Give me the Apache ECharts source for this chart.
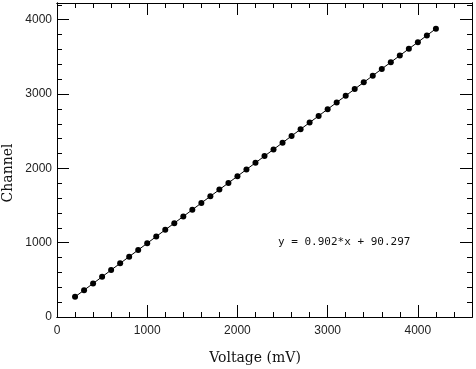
<!DOCTYPE html>
<html><head><meta charset="utf-8">
<script src="https://cdn.jsdelivr.net/npm/echarts@6/dist/echarts.min.js"></script>
<style>html,body{margin:0;padding:0;background:#fff}#c{width:476px;height:369px}</style>
</head><body><div id="c"></div>
<script>
var voltage = [200,300,400,500,600,700,800,900,1000,1100,1200,1300,1400,1500,1600,1700,1800,1900,2000,2100,2200,2300,2400,2500,2600,2700,2800,2900,3000,3100,3200,3300,3400,3500,3600,3700,3800,3900,4000,4100,4200];
var channel = [271,361,451,541,632,722,812,902,992,1083,1173,1263,1353,1443,1534,1624,1714,1804,1894,1985,2075,2165,2255,2345,2436,2526,2616,2706,2796,2887,2977,3067,3157,3247,3338,3428,3518,3608,3698,3789,3879];
var xTickLabels = ['0','1000','2000','3000','4000'];
var yTickLabels = ['0','1000','2000','3000','4000'];
var fitText = 'y = 0.902*x + 90.297';
var xTitle = 'Voltage (mV)';
var yTitle = 'Channel';

var XMAX = 4600, YMAX = 4225;
var gridRect = {left:57, right:4, top:3, bottom:52};
var black = '#000';
var labelFont = {color:'#222', fontFamily:'Liberation Sans', fontSize:12};

function fmt(list){ return function(v){ var s=String(v); return list.indexOf(s)>=0 ? s : ''; }; }

function xAx(grid, pos, interval, len, labels){
  return {type:'value', gridIndex:grid, position:pos, min:0, max:XMAX, interval:interval,
    axisLine:{show:true, onZero:false, lineStyle:{color:black, width:1}},
    axisTick:{show:true, inside:true, length:len, lineStyle:{color:black, width:1}},
    axisLabel:{show:labels, margin:8, formatter:fmt(xTickLabels), showMaxLabel:false, ...labelFont},
    splitLine:{show:false}};
}
function yAx(grid, pos, interval, len, labels){
  return {type:'value', gridIndex:grid, position:pos, min:0, max:YMAX, interval:interval,
    axisLine:{show:true, onZero:false, lineStyle:{color:black, width:1}},
    axisTick:{show:true, inside:true, length:len, lineStyle:{color:black, width:1}},
    axisLabel:{show:labels, margin:5, formatter:fmt(yTickLabels), showMaxLabel:false, ...labelFont},
    splitLine:{show:false}};
}

var chart = echarts.init(document.getElementById('c'), null, {renderer:'canvas'});
chart.setOption({
  animation:false,
  backgroundColor:'#fff',
  grid:[Object.assign({},gridRect), Object.assign({},gridRect)],
  xAxis:[xAx(0,'bottom',1000,12,true), xAx(0,'top',1000,12,false), xAx(1,'bottom',200,5,false), xAx(1,'top',200,5,false)],
  yAxis:[yAx(0,'left',1000,12,true), yAx(0,'right',1000,12,false), yAx(1,'left',200,5,false), yAx(1,'right',200,5,false)],
  series:[{
    type:'line', xAxisIndex:0, yAxisIndex:0,
    data: voltage.map(function(v,i){return [v, channel[i]];}),
    symbol:'circle', symbolSize:6, showSymbol:true,
    lineStyle:{color:black, width:1},
    itemStyle:{color:black}
  }],
  graphic:[
    {type:'text', left:278, top:237, style:{text:fitText, fill:'#111', font:'11px "DejaVu Sans Mono"'}},
    {type:'text', x:255, y:358, style:{text:xTitle, fill:'#111', font:'14px "DejaVu Serif"', align:'center', verticalAlign:'middle'}},
    {type:'text', x:8, y:173, rotation:Math.PI/2, style:{text:yTitle, fill:'#111', font:'14px "DejaVu Serif"', align:'center', verticalAlign:'middle'}}
  ]
});
</script></body></html>
